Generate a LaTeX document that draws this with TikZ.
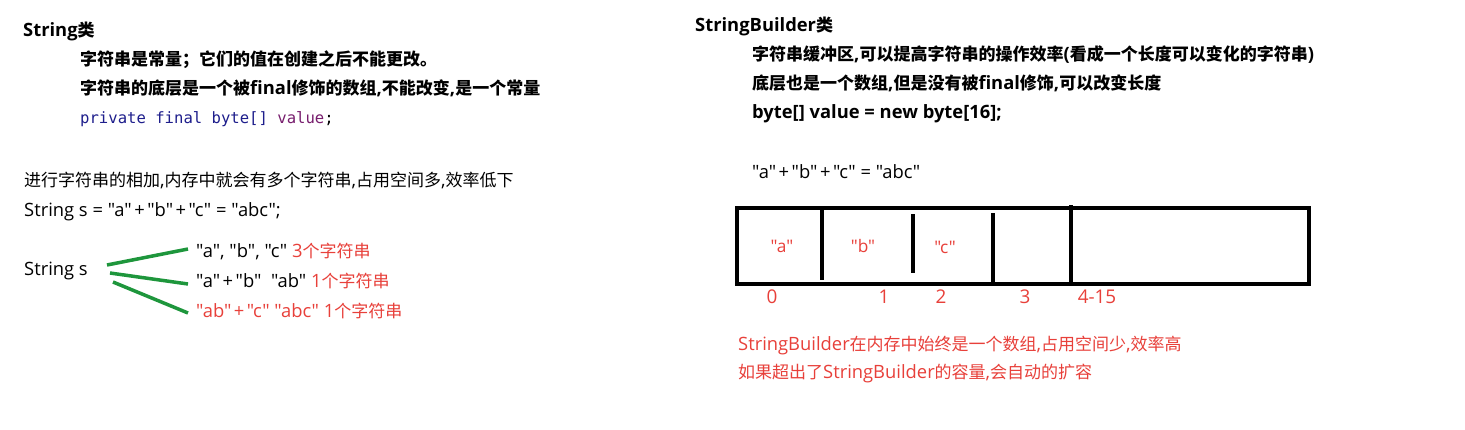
\documentclass[tikz,border=0pt]{standalone}
\usepackage{fontspec}
\setmainfont{Open Sans}[Ligatures=TeXOff,Scale=1.08]
\newfontfamily\cjkfamily{Noto Sans CJK SC}[Ligatures=TeXOff]
\newfontfamily\codefont{DejaVu Sans Mono}
% automatic switch to the CJK font for CJK characters
\XeTeXinterchartokenstate=1
\newXeTeXintercharclass\CJKcls
\newcount\cjkc
\newcommand\setcjkrange[2]{%
  \cjkc=#1\relax
  \loop \XeTeXcharclass\cjkc=\CJKcls \advance\cjkc by 1 \ifnum\cjkc<#2\relax\repeat}
\setcjkrange{"4E00}{"A000}
\setcjkrange{"3000}{"3040}
\setcjkrange{"FF00}{"FFF0}
\XeTeXinterchartoks 0 \CJKcls = {\begingroup\cjkfamily}
\XeTeXinterchartoks 4095 \CJKcls = {\begingroup\cjkfamily}
\XeTeXinterchartoks \CJKcls 0 = {\endgroup}
\XeTeXinterchartoks \CJKcls 4095 = {\endgroup}
\newcommand\pl{\kern2.5pt+\kern2.5pt}
\definecolor{hlred}{RGB}{232,64,58}
\definecolor{navy}{RGB}{30,30,140}
\definecolor{kwpurple}{RGB}{120,30,110}
\definecolor{linegreen}{RGB}{30,150,60}
\tikzset{
  txt/.style={anchor=base west, inner sep=0pt, font=\fontsize{17}{20}\selectfont},
  btxt/.style={txt, font=\fontsize{17}{20}\selectfont\bfseries},
  head/.style={txt, font=\fontsize{17}{20}\selectfont\bfseries},
  code/.style={anchor=base west, inner sep=0pt, font=\fontsize{15.6}{18}\codefont},
  redtxt/.style={txt, text=hlred},
  cell/.style={anchor=base, inner sep=0pt, text=hlred, font=\fontsize{16}{19}\selectfont},
  idx/.style={anchor=base, inner sep=0pt, text=hlred, font=\fontsize{17.5}{20}\selectfont},
  gline/.style={draw=linegreen, line width=3.5pt},
  boxline/.style={draw=black, line width=3.5pt},
}
\begin{document}
\begin{tikzpicture}[x=1pt,y=-1pt]
\useasboundingbox[fill=white] (0,0) rectangle (1465,429);
% ---------- left: String ----------
\node[head] (h1) at (23,36) {String类};
\node[btxt] (l1) at (80,65) {字符串是常量；它们的值在创建之后不能更改。};
\node[btxt] (l2) at (80,94) {字符串的底层是一个被final修饰的数组,不能改变,是一个常量};
\node[code] (l3) at (80,123) {\textcolor{navy}{private final byte[]} \textcolor{kwpurple}{value};};
\node[txt] (l4) at (24,186) {进行字符串的相加,内存中就会有多个字符串,占用空间多,效率低下};
\node[txt] (l5) at (24,216) {String s = "a"\pl"b"\pl"c" = "abc";};
\node[txt] (ss) at (24,275) {String s};
\node[txt] (r1) at (196,257) {"a", "b", "c" \textcolor{hlred}{3个字符串}};
\node[txt] (r2) at (196,287) {"a"\pl"b"\ \ "ab" \textcolor{hlred}{1个字符串}};
\node[redtxt] (r3) at (196,317) {"ab"\pl"c" "abc" 1个字符串};
\draw[gline] ([shift={(83,-10)}]ss.base west) -- ([shift={(-8,-8)}]r1.base west);
\draw[gline] ([shift={(86,-2)}]ss.base west) -- ([shift={(-8,-3)}]r2.base west);
\draw[gline] ([shift={(89,7)}]ss.base west) -- ([shift={(-8,-4)}]r3.base west);
% ---------- right: StringBuilder ----------
\node[head] (h2) at (695,31) {StringBuilder类};
\node[btxt] (m1) at (752,60) {字符串缓冲区,可以提高字符串的操作效率(看成一个长度可以变化的字符串)};
\node[btxt] (m2) at (752,89) {底层也是一个数组,但是没有被final修饰,可以改变长度};
\node[btxt] (m3) at (752,118) {byte[] value = new byte[16];};
\node[txt] (m4) at (752,178) {"a"\pl"b"\pl"c" = "abc"};
% array
\draw[boxline] (737,208) rectangle (1309,284);
\draw[boxline] (822,208) -- (822,280);
\draw[boxline] (913,214) -- (913,273);
\draw[boxline] (993,213) -- (993,284);
\draw[boxline] (1071,205) -- (1071,284);
\node[cell] (ca) at (782,252) {"a"};
\node[cell] (cb) at (863,252) {"b"};
\node[cell] (cc) at (945,253) {"c"};
\node[idx] (i0) at (772,303) {0};
\node[idx] (i1) at (884,303) {1};
\node[idx] (i2) at (941,303) {2};
\node[idx] (i3) at (1025,303) {3};
\node[idx] (i4) at (1097,303) {4-15};
\node[redtxt] (n1) at (738,350) {StringBuilder在内存中始终是一个数组,占用空间少,效率高};
\node[redtxt] (n2) at (738,378) {如果超出了StringBuilder的容量,会自动的扩容};
\end{tikzpicture}
\end{document}
